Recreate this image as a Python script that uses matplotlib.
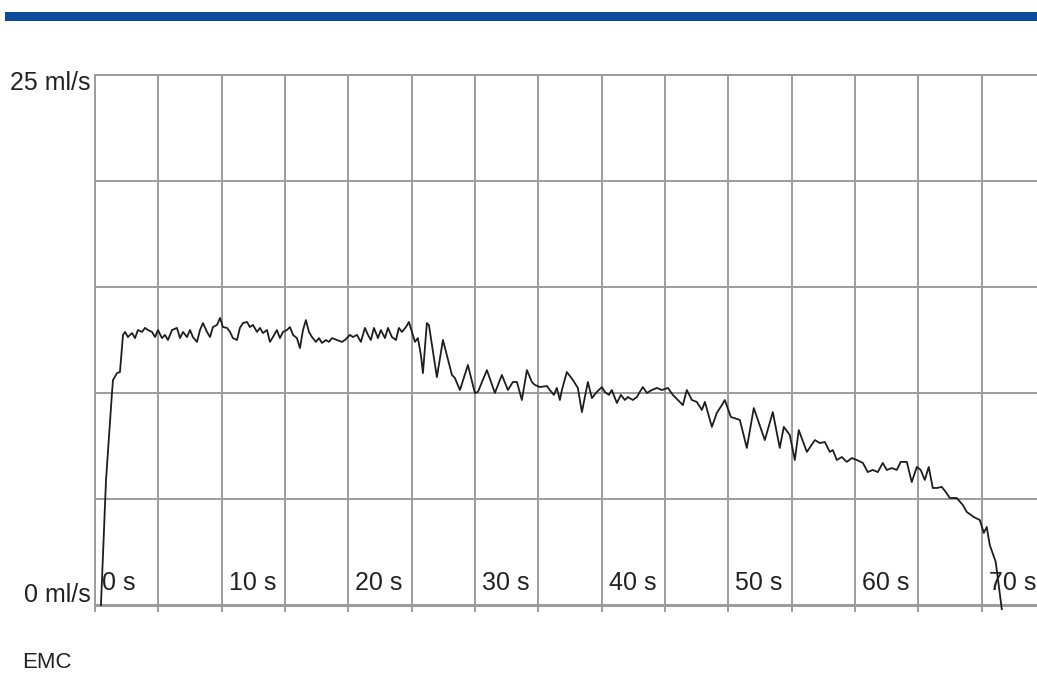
import matplotlib
matplotlib.use("Agg")
import matplotlib.pyplot as plt
from matplotlib.patches import Rectangle
import numpy as np

# ---- data (time in s, flow in ml/s) ----
time_s = [0.47, 0.87, 1.34, 1.42, 1.74, 1.97, 2.21, 2.37, 2.60, 2.92, 3.16, 3.39, 3.71, 3.95,
          4.18, 4.50, 4.74, 4.97, 5.29, 5.52, 5.76, 6.08, 6.47, 6.71, 6.95, 7.26, 7.50, 7.73,
          8.05, 8.29, 8.52, 8.84, 9.08, 9.31, 9.63, 9.87, 10.10, 10.42, 10.66, 10.89, 11.21,
          11.44, 11.68, 12.00, 12.23, 12.47, 12.79, 13.02, 13.26, 13.58, 13.81, 14.05, 14.36,
          14.60, 14.84, 15.15, 15.39, 15.63, 15.94, 16.18, 16.42, 16.65, 16.89, 17.13, 17.44,
          17.68, 17.92, 18.23, 18.47, 18.71, 19.10, 19.49, 19.73, 20.13, 20.36, 20.68, 20.99,
          21.31, 21.55, 21.78, 22.02, 22.34, 22.57, 22.89, 23.13, 23.44, 23.76, 23.99, 24.23,
          24.55, 24.78, 25.02, 25.26, 25.49, 25.73, 25.89, 26.20, 26.36, 26.99, 27.47, 28.18,
          28.41, 28.81, 29.44, 29.99, 30.23, 30.94, 31.57, 32.12, 32.60, 32.99, 33.31, 33.70,
          34.10, 34.49, 34.73, 35.12, 35.67, 35.91, 36.23, 36.46, 36.70, 36.86, 37.25, 37.73,
          38.12, 38.44, 38.91, 39.23, 39.62, 40.02, 40.25, 40.57, 40.80, 41.20, 41.52, 41.83,
          42.07, 42.46, 42.78, 43.01, 43.25, 43.57, 43.96, 44.36, 44.75, 45.23, 45.62, 46.01,
          46.41, 46.72, 47.12, 47.51, 47.91, 48.15, 48.70, 49.09, 49.49, 49.72, 50.20, 50.91,
          51.46, 52.01, 52.88, 53.51, 54.06, 54.38, 54.85, 55.25, 55.56, 56.20, 56.83, 57.22,
          57.62, 58.01, 58.25, 58.56, 58.96, 59.35, 59.75, 60.14, 60.62, 61.01, 61.40, 61.80,
          62.19, 62.51, 62.90, 63.30, 63.61, 64.09, 64.48, 64.88, 65.19, 65.51, 65.82, 66.14,
          66.46, 66.85, 67.17, 67.48, 68.03, 68.51, 68.82, 69.38, 69.85, 70.17, 70.40, 70.64,
          71.11, 71.59]
flow_ml_s = [0.0, 5.90, 10.0, 10.61, 10.94, 10.99, 12.74, 12.88, 12.64, 12.83, 12.59, 12.97, 12.88,
             13.07, 12.97, 12.88, 12.64, 12.97, 12.59, 12.74, 12.50, 12.97, 13.07, 12.59, 12.88,
             12.64, 12.97, 12.64, 12.41, 12.97, 13.30, 12.88, 12.64, 13.11, 13.21, 13.54, 13.11,
             13.07, 12.88, 12.59, 12.50, 13.07, 13.30, 13.35, 13.11, 13.21, 12.88, 13.07, 12.83,
             12.97, 12.41, 12.64, 12.97, 12.59, 12.88, 12.97, 13.11, 12.74, 12.59, 12.12, 12.97,
             13.44, 12.88, 12.64, 12.41, 12.59, 12.36, 12.50, 12.41, 12.59, 12.50, 12.41, 12.50,
             12.74, 12.64, 12.74, 12.41, 13.07, 12.74, 12.50, 13.07, 12.59, 12.97, 12.59, 13.07,
             12.64, 12.50, 13.07, 12.88, 13.11, 13.35, 12.88, 12.41, 12.59, 11.79, 10.94, 13.30,
             13.21, 10.75, 12.50, 10.85,
             10.71, 10.14, 11.32, 10.0, 10.05, 11.08, 10.0, 10.85, 10.14, 10.52, 10.52, 9.67,
             11.08, 10.52, 10.38, 10.28, 10.33, 10.14, 9.91, 10.24, 9.67, 10.14, 10.99, 10.61,
             10.24, 9.10, 10.52, 9.76, 10.05, 10.28, 10.05, 9.91, 10.14, 9.53, 9.91, 9.67,
             9.81, 9.67, 9.81, 10.05, 10.28, 10.0, 10.14, 10.24, 10.14, 10.24, 9.91, 9.67,
             9.43, 10.14, 9.67, 9.58, 9.20, 9.58, 8.40, 9.06, 9.43, 9.67, 8.87, 8.73,
             7.41, 9.29, 7.78, 9.10, 7.41, 8.40, 8.02, 6.84, 8.25, 7.22, 7.78, 7.64,
             7.69, 7.22, 7.31, 6.84, 6.98, 6.75, 6.93, 6.84, 6.70, 6.27, 6.37, 6.27,
             6.70, 6.37, 6.46, 6.37, 6.75, 6.75, 5.80, 6.51, 6.37, 5.90, 6.51, 5.52,
             5.52, 5.57, 5.33, 5.05, 5.05, 4.72, 4.39, 4.15, 4.01, 3.40, 3.68, 2.83,
             2.03, -0.2]

x_tick_labels = ["0 s", "10 s", "20 s", "30 s", "40 s", "50 s", "60 s", "70 s"]
x_label_pos = [0, 10, 20, 30, 40, 50, 60, 70]
y_tick_labels = ["0 ml/s", "25 ml/s"]
y_label_pos = [0, 25]

GRID = "#9c9c9c"
TXT = "#222222"
FAM = ["Liberation Sans Narrow", "Liberation Sans", "DejaVu Sans"]

fig = plt.figure(figsize=(10.37, 6.93), dpi=100)
fig.patch.set_facecolor("white")

# top blue band
fig.add_artist(Rectangle((5 / 1037, (693 - 21) / 693), 1.0, 9 / 693,
                         transform=fig.transFigure, color="#0b4c9c", lw=0))

ax = fig.add_axes([95 / 1037, 88 / 693, 950 / 1037, 530 / 693])
ax.set_xlim(0, 75)
ax.set_ylim(0, 25)
ax.set_xticks(np.arange(0, 76, 5))
ax.set_yticks(np.arange(0, 26, 5))
ax.grid(True, color=GRID, lw=1.4)
ax.set_axisbelow(True)
for s in ax.spines.values():
    s.set_color(GRID)
    s.set_linewidth(1.4)
ax.spines["bottom"].set_linewidth(2.2)
ax.spines["right"].set_visible(False)
ax.tick_params(axis="x", length=5, width=1.4, color=GRID, labelbottom=False)
ax.tick_params(axis="y", length=0, labelleft=False)

ax.plot(time_s, flow_ml_s, color="#1e1e1e", lw=1.3, clip_on=False, zorder=3)

for pos, lab in zip(x_label_pos, x_tick_labels):
    ax.text(pos + 0.55, 1.05, lab, ha="left", va="center", fontsize=18,
            color=TXT, family=FAM)

ax.text(-0.35, 0.45, y_tick_labels[0], ha="right", va="center", fontsize=18,
        color=TXT, family=FAM)
ax.text(-0.35, 24.6, y_tick_labels[1], ha="right", va="center", fontsize=18,
        color=TXT, family=FAM)

fig.text(22 / 1037, 1 - 663 / 693, "EMC", ha="left", va="center", fontsize=16,
         color=TXT, family=FAM)

fig.savefig("out.png", dpi=100)
